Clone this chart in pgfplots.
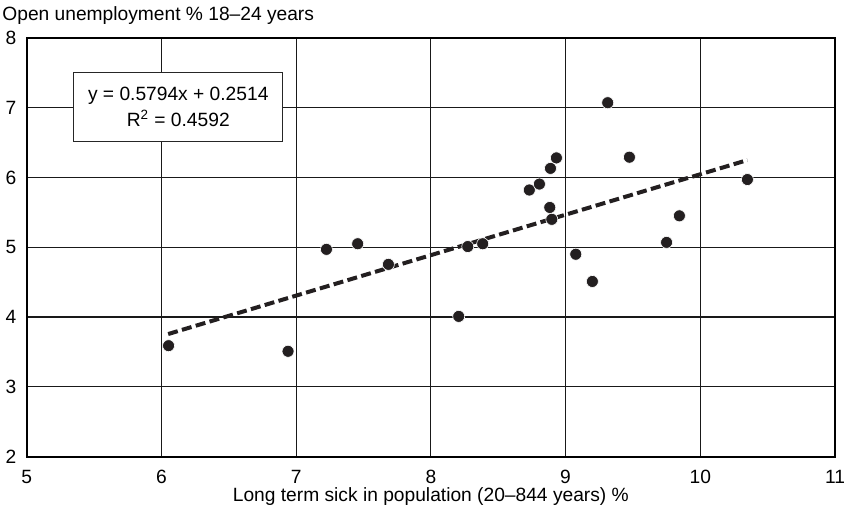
\documentclass[border=0pt]{standalone}
\usepackage{pgfplots}
\pgfplotsset{compat=1.18}
\usepackage{fontspec}
\setmainfont{Liberation Sans}
\definecolor{dotc}{HTML}{231F20}
\begin{document}
\fontsize{9.6}{13}\selectfont
\begin{tikzpicture}
\useasboundingbox (-13.35pt,-28.65pt) rectangle (410.65pt,228.35pt);
\begin{axis}[
  at={(0,0)}, anchor=south west,
  scale only axis,
  width=404.15pt, height=209.45pt,
  xmin=5, xmax=11, ymin=2, ymax=8,
  xtick={5,6,7,8,9,10,11},
  ytick={2,3,4,5,6,7,8},
  major tick length=0pt,
  grid=major,
  major grid style={black!90, line width=0.6pt},
  axis line style={black, line width=1pt},
  /pgf/number format/assume math mode=true,
  tick label style={font=\fontsize{9.6}{13}\selectfont},
  xticklabel style={yshift=-3.3pt},
  yticklabel style={xshift=-1.8pt},
  xlabel={Long term sick in population (20–844 years) \%},
  xlabel style={at={(rel axis cs:0.5,0)}, anchor=base, yshift=-22.5pt, inner sep=0pt},
  clip=false,
]
\addplot[dotc, line width=2pt, dash pattern=on 5pt off 2.2pt] coordinates {(6.05,3.7568) (10.35,6.2482)};
\addplot[only marks, mark=*, mark size=3pt, mark options={fill=dotc, draw=white, line width=0.3pt}] coordinates {
(6.053,3.59) (6.94,3.51) (7.225,4.97) (7.457,5.05) (7.685,4.755)
(8.207,4.01) (8.274,5.01) (8.385,5.05) (8.731,5.82) (8.806,5.905)
(8.888,6.13) (8.932,6.28) (8.883,5.57) (8.898,5.40) (9.076,4.90)
(9.199,4.51) (9.313,7.07) (9.474,6.29) (9.75,5.07) (9.845,5.45)
(10.35,5.97)
};
\node[draw=black!85, line width=0.5pt, fill=white, minimum width=104.3pt, minimum height=34.5pt, align=center, inner sep=0pt, font=\fontsize{9.6}{13}\selectfont] at (axis cs:6.125,7.005) {y = 0.5794x + 0.2514\\R\textsuperscript{2} = 0.4592};
\node[anchor=base west, inner sep=0pt, xshift=-12.35pt, yshift=8.65pt] at (rel axis cs:0,1) {Open unemployment \% 18–24 years};
\end{axis}
\end{tikzpicture}
\end{document}
